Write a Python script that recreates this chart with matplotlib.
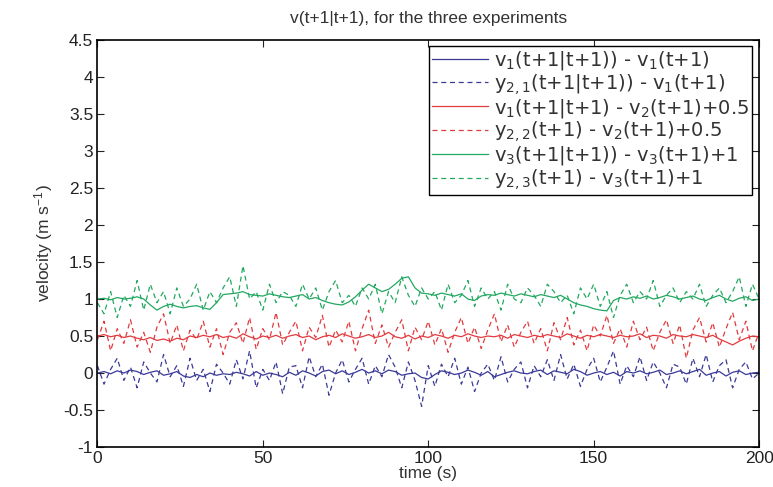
import numpy as np
import matplotlib
matplotlib.use("Agg")
import matplotlib.pyplot as plt

plt.rcParams['font.family'] = ['Liberation Sans', 'DejaVu Sans']
plt.rcParams['mathtext.default'] = 'regular'

time = np.arange(0, 201, 2)

blue_solid = [0.0,0.02,-0.01,0.03,0.0,0.04,0.02,-0.02,0.01,0.03,
 -0.03,-0.01,0.02,-0.04,-0.06,-0.02,-0.05,0.0,-0.03,-0.01,
 -0.02,0.01,-0.01,-0.04,0.02,-0.03,0.0,-0.02,-0.05,0.01,
 -0.03,0.03,0.0,-0.04,0.02,0.04,-0.01,0.03,-0.02,0.01,
 0.05,0.0,0.03,-0.01,0.04,0.02,-0.03,-0.01,0.0,-0.06,
 -0.08,-0.02,0.03,0.01,-0.02,0.0,0.04,0.01,-0.03,0.02,
 -0.05,-0.02,0.01,0.03,0.0,-0.01,0.02,0.04,-0.02,0.03,
 0.01,-0.01,0.05,0.02,-0.03,0.0,0.02,-0.02,0.01,-0.04,
 0.02,0.0,0.03,-0.01,0.01,0.04,-0.02,0.0,0.03,-0.01,
 0.02,0.05,-0.03,0.0,0.02,-0.04,0.01,0.03,-0.02,0.0,
 0.01]

red_solid = [0.5,0.52,0.49,0.51,0.48,0.5,0.47,0.45,0.48,0.44,
 0.46,0.43,0.47,0.45,0.5,0.48,0.51,0.49,0.52,0.48,
 0.5,0.47,0.53,0.49,0.46,0.5,0.48,0.51,0.47,0.5,
 0.52,0.48,0.5,0.45,0.49,0.51,0.48,0.53,0.5,0.47,
 0.49,0.52,0.48,0.5,0.55,0.49,0.47,0.51,0.46,0.5,
 0.48,0.52,0.5,0.47,0.51,0.49,0.53,0.5,0.48,0.5,
 0.49,0.51,0.47,0.52,0.5,0.48,0.51,0.49,0.52,0.5,
 0.48,0.53,0.5,0.47,0.51,0.49,0.52,0.5,0.48,0.51,
 0.49,0.5,0.53,0.48,0.51,0.5,0.47,0.52,0.5,0.49,
 0.52,0.5,0.48,0.51,0.46,0.42,0.38,0.43,0.47,0.5,
 0.49]

green_solid = [1.0,1.01,0.99,1.02,1.0,1.01,1.03,1.0,0.92,0.85,
 0.9,0.93,0.9,0.88,0.9,0.91,0.88,0.86,0.95,1.06,
 1.07,1.08,1.1,1.06,1.05,1.04,1.07,1.05,1.03,1.02,
 1.04,1.06,1.0,1.02,0.98,0.95,0.93,0.92,0.96,1.03,
 1.12,1.2,1.15,1.1,1.13,1.2,1.28,1.3,1.15,1.08,
 1.07,1.05,1.08,1.06,1.04,1.07,1.0,0.98,1.04,1.06,
 1.05,1.08,1.06,1.04,1.07,1.05,1.03,1.06,1.04,1.02,
 1.05,1.0,0.95,0.92,0.9,0.87,0.85,0.84,0.98,1.02,
 1.0,1.03,1.01,1.04,1.0,1.02,1.05,1.03,1.0,1.02,
 1.04,1.0,0.98,1.02,1.05,1.0,0.97,1.01,1.03,0.98,
 1.0]

blue_dashed = [0.1,-0.15,0.05,0.2,-0.1,0.08,-0.2,0.15,0.0,-0.12,
 0.25,-0.05,0.1,-0.18,0.2,-0.1,0.05,-0.25,0.12,0.0,
 -0.15,0.18,-0.08,0.3,-0.2,0.05,-0.1,0.15,-0.28,0.08,
 0.1,-0.2,0.22,-0.05,0.12,-0.3,0.0,0.18,-0.12,0.05,
 0.2,-0.15,0.1,-0.05,0.25,0.08,-0.2,0.15,-0.1,-0.45,
 0.1,-0.18,0.12,-0.05,0.2,-0.15,0.08,-0.25,0.0,0.12,
 -0.1,0.22,-0.12,0.05,0.15,-0.2,0.1,-0.05,0.18,-0.1,
 0.25,-0.08,0.12,-0.18,0.05,0.2,-0.12,0.08,0.3,-0.15,
 0.1,-0.05,0.22,-0.1,0.15,0.0,-0.2,0.12,0.08,-0.15,
 0.2,-0.05,0.25,-0.12,0.1,0.18,-0.2,0.05,0.15,-0.08,
 0.0]

red_dashed = [0.45,0.7,0.3,0.6,0.4,0.72,0.35,0.55,0.28,0.62,
 0.8,0.4,0.65,0.3,0.58,0.45,0.7,0.35,0.6,0.25,
 0.55,0.68,0.4,0.75,0.32,0.6,0.45,0.82,0.38,0.55,
 0.7,0.3,0.62,0.48,0.78,0.35,0.58,0.42,0.7,0.3,
 0.6,0.85,0.4,0.65,0.35,0.55,0.72,0.3,0.62,0.45,
 0.7,0.38,0.6,0.28,0.55,0.75,0.4,0.62,0.33,0.58,
 0.8,0.42,0.65,0.35,0.55,0.7,0.4,0.6,0.3,0.68,
 0.45,0.75,0.38,0.58,0.3,0.65,0.5,0.78,0.4,0.6,
 0.35,0.7,0.45,0.62,0.3,0.55,0.72,0.4,0.65,0.2,
 0.58,0.75,0.42,0.68,0.35,0.6,0.82,0.45,0.7,0.3,
 0.55]

green_dashed = [0.95,0.8,1.1,0.75,1.05,0.9,1.25,0.85,1.2,0.95,
 1.1,0.8,1.15,0.9,1.0,1.2,0.85,1.1,0.95,1.15,
 1.3,0.9,1.45,1.0,1.1,0.85,1.2,0.95,1.1,1.05,
 0.9,1.2,1.0,1.15,0.85,1.1,1.25,0.95,1.05,0.9,
 1.15,1.0,1.2,0.8,1.1,0.95,1.3,1.05,0.9,1.15,
 1.0,1.1,0.85,1.2,0.95,1.05,1.25,0.9,1.15,1.0,
 1.1,0.85,1.2,1.0,0.95,1.15,1.05,0.9,1.2,1.1,
 0.95,1.05,0.8,1.15,1.0,1.2,0.9,1.1,0.75,1.05,
 1.2,0.95,1.1,1.0,1.25,0.9,1.05,1.15,0.95,1.1,
 1.0,1.2,0.9,1.05,1.15,0.95,1.1,1.3,0.9,1.2,
 1.0]

labels = [
    r'v$_1$(t+1|t+1)) - v$_1$(t+1)',
    r'y$_{2,1}$(t+1|t+1)) - v$_1$(t+1)',
    r'v$_1$(t+1|t+1) - v$_2$(t+1)+0.5',
    r'y$_{2,2}$(t+1) - v$_2$(t+1)+0.5',
    r'v$_3$(t+1|t+1)) - v$_3$(t+1)+1',
    r'y$_{2,3}$(t+1) - v$_3$(t+1)+1',
]

c_blue = '#3a3a98'
c_red = '#e23b3f'
c_green = '#22a860'
dash = (0, (4, 3))

fig = plt.figure(figsize=(7.73, 4.87), dpi=100)
ax = fig.add_axes([0.126, 0.082, 0.856, 0.836])

ax.plot(time, blue_solid, color=c_blue, lw=0.9, label=labels[0])
ax.plot(time, blue_dashed, color=c_blue, lw=0.9, ls=dash, label=labels[1])
ax.plot(time, red_solid, color=c_red, lw=0.9, label=labels[2])
ax.plot(time, red_dashed, color=c_red, lw=0.9, ls=dash, label=labels[3])
ax.plot(time, green_solid, color=c_green, lw=0.9, label=labels[4])
ax.plot(time, green_dashed, color=c_green, lw=0.9, ls=dash, label=labels[5])

ax.set_xlim(0, 200)
ax.set_ylim(-1, 4.5)
ax.set_xticks([0, 50, 100, 150, 200])
ax.set_yticks(np.arange(-1, 4.51, 0.5))
ax.set_yticklabels(['-1', '-0.5', '0', '0.5', '1', '1.5', '2', '2.5', '3', '3.5', '4', '4.5'])
ax.tick_params(direction='in', top=True, right=True, labelsize=12.5, length=5, colors='#222222', pad=3)
for s in ax.spines.values():
    s.set_linewidth(1.2)
ax.set_xlabel('time (s)', fontsize=12.5, labelpad=0, color='#333333')
ax.set_ylabel(r'velocity (m s$^{-1}$)', fontsize=12.5, labelpad=6, color='#333333')
ax.set_title('v(t+1|t+1), for the three experiments', fontsize=12.5, pad=12, color='#333333')

leg = ax.legend(loc='upper right', bbox_to_anchor=(0.99, 0.985), borderaxespad=0,
                prop={'family': 'DejaVu Sans', 'size': 14},
                handlelength=2.9, handletextpad=0.3, labelspacing=0.0,
                fancybox=False, framealpha=1, edgecolor='black', borderpad=0.15)
leg.get_frame().set_linewidth(1.0)
for txt in leg.get_texts():
    txt.set_color('#333333')

fig.savefig('out.png', dpi=100)
